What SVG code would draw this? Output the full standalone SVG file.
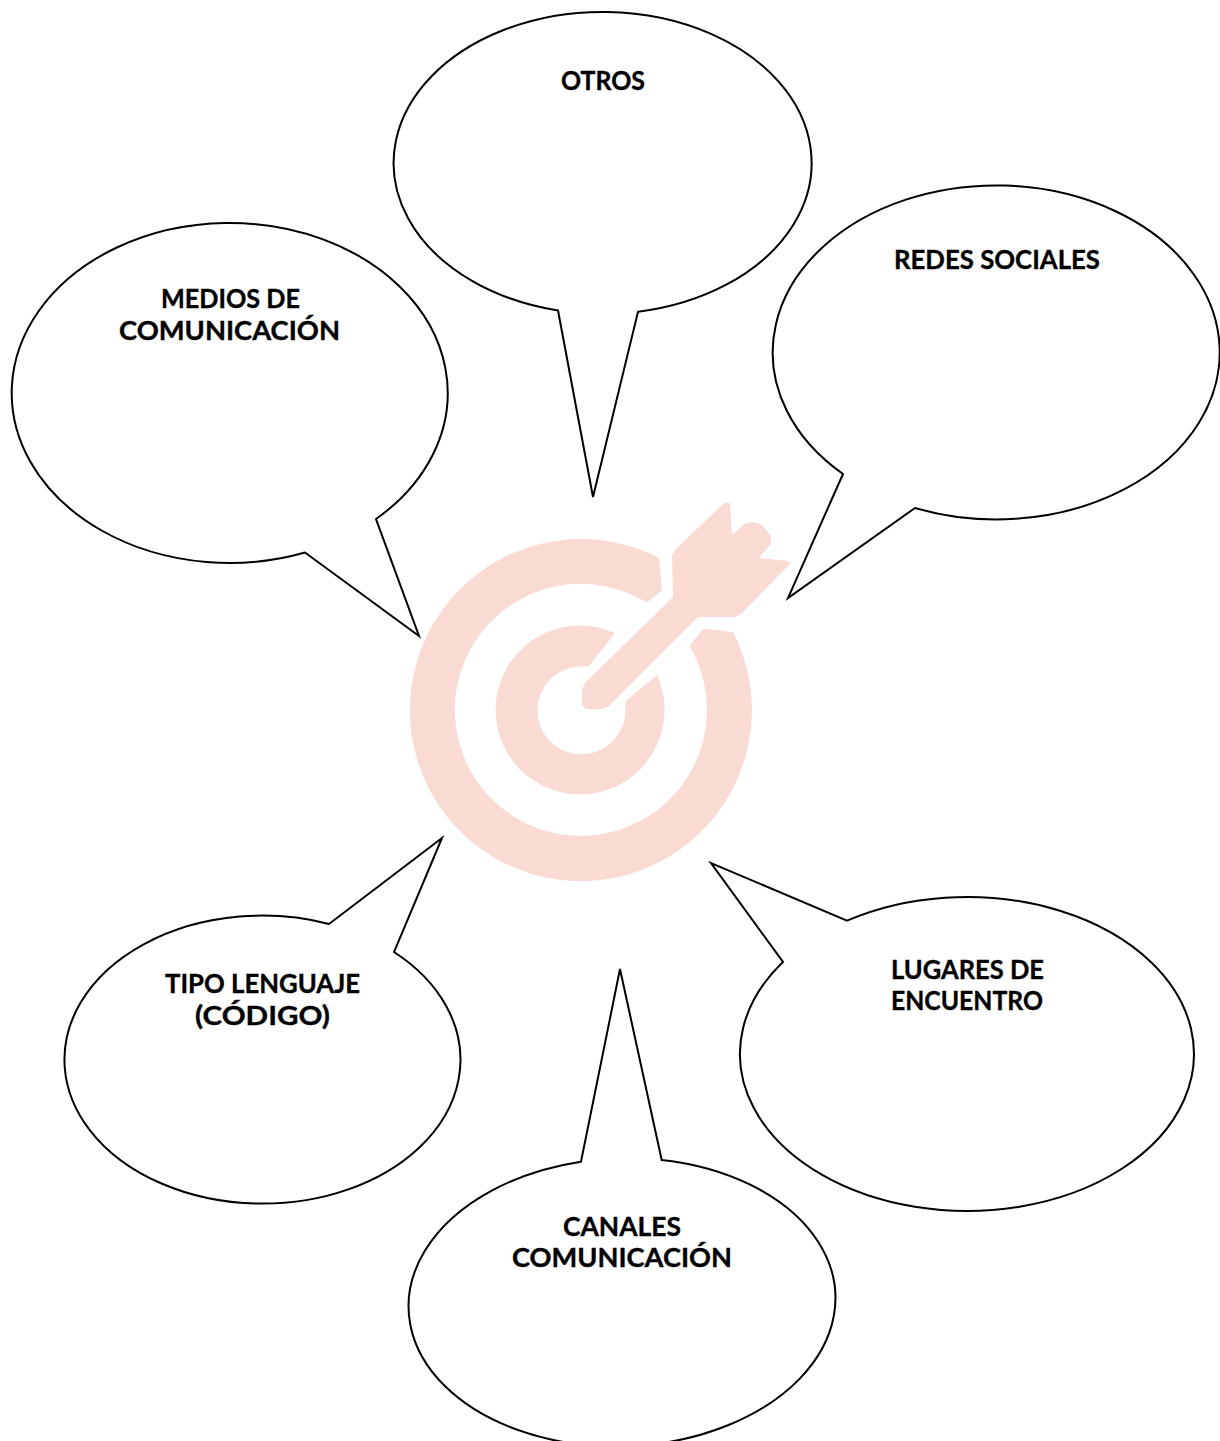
<svg xmlns="http://www.w3.org/2000/svg" width="1220" height="1441" viewBox="0 0 1220 1441">
<style>
.b{fill:none;stroke:#000;stroke-width:2;stroke-linejoin:miter}
.t{font-family:"Lato","Liberation Sans",sans-serif;font-weight:700;font-size:26px;fill:#000;stroke:#000;stroke-width:.35;text-anchor:middle}
.i{fill:#f9dbd4}
</style>
<rect width="1220" height="1441" fill="#fff"/>
<g id="target">
<path class="i" d="M733 632A171 171 0 1 1 659 558L662 590L647 602.600A126 126 0 1 0 689.500 646L702 630Q704 629 706 629Z"/>
<path class="i" d="M615 633A84.500 84.500 0 1 0 657 675L627 700L625 704A44 44 0 1 1 587 666.700L590 665Z"/>
<path class="i" d="M585 683L673 597L672 555L677 548L722 505Q728 500 730 504L732 535L743 525Q753 519 763 526L770 535Q773 542 769 546L759 558L787 561Q792 563 789 565L743 612Q738 617 733 617L698 617L610 705Q605 709 600 709L588 709Q582 708 582 703L582 690Z"/>
</g>
<g id="otros"><path class="b" d="M558 310.500A209 151 0 1 1 638 311.800L593 497Z"/><text class="t" x="603" y="90" textLength="84" lengthAdjust="spacingAndGlyphs">OTROS</text></g>
<g id="medios"><path class="b" d="M376 519A218 170 0 1 0 305 552.500L419 636Z"/><text class="t" x="230.500" y="308" textLength="139" lengthAdjust="spacingAndGlyphs">MEDIOS DE</text><text class="t" x="229.500" y="340" textLength="221" lengthAdjust="spacingAndGlyphs">COMUNICACIÓN</text></g>
<g id="redes"><path class="b" d="M843 474A223.500 167 0 1 1 915 508L788 598Z"/><text class="t" x="997" y="269" textLength="206" lengthAdjust="spacingAndGlyphs">REDES SOCIALES</text></g>
<g id="tipo"><path class="b" d="M394 952A198 144 0 1 1 329 924L442 838Z"/><text class="t" x="262.500" y="993" textLength="195" lengthAdjust="spacingAndGlyphs">TIPO LENGUAJE</text><text class="t" x="262.500" y="1025" textLength="135" lengthAdjust="spacingAndGlyphs">(CÓDIGO)</text></g>
<g id="lugares"><path class="b" d="M847 920.700A227 157 0 1 1 783 962L711 863Z"/><text class="t" x="967.500" y="979" textLength="153" lengthAdjust="spacingAndGlyphs">LUGARES DE</text><text class="t" x="967" y="1010" textLength="152" lengthAdjust="spacingAndGlyphs">ENCUENTRO</text></g>
<g id="canales"><path class="b" d="M661.700 1160A213.500 144 -2 1 1 581 1161.700L620 969Z"/><text class="t" x="622" y="1236" textLength="118" lengthAdjust="spacingAndGlyphs">CANALES</text><text class="t" x="622" y="1267" textLength="220" lengthAdjust="spacingAndGlyphs">COMUNICACIÓN</text></g>
</svg>
